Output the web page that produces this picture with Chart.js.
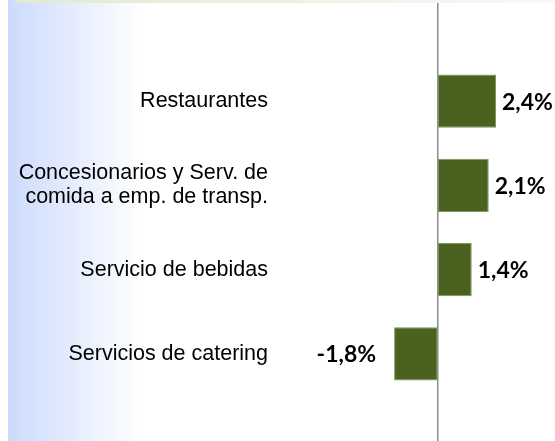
<!DOCTYPE html>
<html>
<head>
<meta charset="utf-8">
<script src="https://cdn.jsdelivr.net/npm/chart.js@4.4.0/dist/chart.umd.min.js"></script>
<style>
  html, body { margin: 0; padding: 0; background: #ffffff; }
  #wrap { width: 555px; height: 441px; position: relative; }
</style>
</head>
<body>
<div id="wrap"><canvas id="chart"></canvas></div>
<script>
// data
const categories = [
    'Restaurantes',
    ['Concesionarios y Serv. de', 'comida a emp. de transp.'],
    'Servicio de bebidas',
    'Servicios de catering'
];
const variation = [2.4, 2.1, 1.4, -1.8];

// background panels: blue fade on the left, green strip on top
const backdrop = {
    id: 'backdrop',
    beforeDraw(chart) {
        const ctx = chart.ctx;
        const h = chart.height, w = chart.width;
        ctx.save();
        let g = ctx.createLinearGradient(8, 0, 142, 0);
        g.addColorStop(0, '#ccdafc');
        g.addColorStop(1, '#ffffff');
        ctx.fillStyle = g;
        ctx.fillRect(8, 0, 134, h);
        g = ctx.createLinearGradient(15, 0, w, 0);
        g.addColorStop(0, '#e1ead4');
        g.addColorStop(1, '#f7f9f3');
        ctx.fillStyle = g;
        ctx.fillRect(15, 0, w - 15, 3);
        ctx.restore();
    }
};

// vertical zero line spanning the full height
const zeroLine = {
    id: 'zeroLine',
    beforeDatasetsDraw(chart) {
        const ctx = chart.ctx;
        const x = chart.scales.x.getPixelForValue(0);
        ctx.save();
        ctx.strokeStyle = '#8c8c8c';
        ctx.lineWidth = 1.5;
        ctx.beginPath();
        ctx.moveTo(x, 3);
        ctx.lineTo(x, chart.height);
        ctx.stroke();
        ctx.restore();
    }
};

// bold value labels beside the bars
const valueLabels = {
    id: 'valueLabels',
    afterDatasetsDraw(chart) {
        const ctx = chart.ctx;
        const meta = chart.getDatasetMeta(0);
        ctx.save();
        ctx.font = 'bold 23px Lato, "Open Sans", sans-serif';
        ctx.fillStyle = '#000000';
        ctx.textBaseline = 'middle';
        meta.data.forEach((bar, i) => {
            const v = variation[i];
            const txt = v.toFixed(1).replace('.', ',') + '%';
            if (v >= 0) {
                ctx.textAlign = 'left';
                ctx.fillText(txt, bar.x + 6, bar.y + 1);
            } else {
                ctx.textAlign = 'right';
                ctx.fillText(txt, bar.x - 18, bar.y + 1);
            }
        });
        ctx.restore();
    }
};

new Chart(document.getElementById('chart'), {
    type: 'bar',
    data: {
        labels: categories,
        datasets: [{
            data: variation,
            backgroundColor: '#4a6120',
            borderColor: '#7f9a5a',
            borderWidth: 1,
            borderSkipped: false,
            barPercentage: 0.63,
            categoryPercentage: 1
        }]
    },
    options: {
        indexAxis: 'y',
        responsive: true,
        maintainAspectRatio: false,
        animation: false,
        layout: { padding: { top: 59, bottom: 45, right: 8, left: 0 } },
        plugins: {
            legend: { display: false },
            tooltip: { enabled: false }
        },
        scales: {
            x: {
                display: false,
                min: -6.5,
                max: 4.5
            },
            y: {
                afterFit(scale) { scale.width = 280; },
                grid: { display: false, drawTicks: false },
                border: { display: false },
                ticks: {
                    color: '#000000',
                    padding: 12,
                    font: { family: '"Liberation Sans", Arial, sans-serif', size: 21.5, lineHeight: 1.12 }
                }
            }
        }
    },
    plugins: [backdrop, zeroLine, valueLabels]
});
</script>
</body>
</html>
